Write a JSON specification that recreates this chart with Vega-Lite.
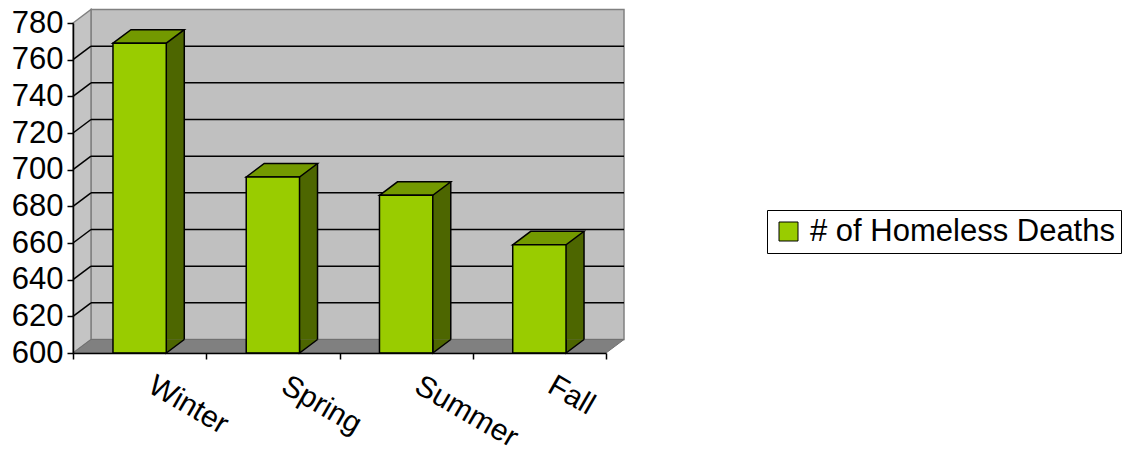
{
  "$schema": "https://vega.github.io/schema/vega-lite/v6.json",
  "width": 533,
  "height": 330,
  "autosize": {"type": "none"},
  "padding": {"left": 73, "top": 23, "right": 519, "bottom": 100},
  "background": "white",
  "config": {"view": {"stroke": null}, "font": "Liberation Sans",
             "axisY": {"labelOverlap": false, "labelBound": false, "labelFlush": false}},
  "datasets": {
    "deaths": [
      {"season": "Winter", "deaths": 769},
      {"season": "Spring", "deaths": 696},
      {"season": "Summer", "deaths": 686},
      {"season": "Fall", "deaths": 659}
    ],
    "gridticks": [
      {"v": 620}, {"v": 640}, {"v": 660}, {"v": 680},
      {"v": 700}, {"v": 720}, {"v": 740}, {"v": 760}
    ],
    "one": [{}]
  },
  "resolve": {"scale": {"x": "independent"}},
  "layer": [
    {
      "data": {"name": "one"},
      "mark": {"type": "rect", "fill": "#C0C0C0", "stroke": "#808080", "strokeWidth": 1.5,
               "xOffset": 18, "x2Offset": 18, "yOffset": -13.5, "y2Offset": -13.5},
      "encoding": {
        "x": {"datum": 0, "type": "quantitative", "scale": {"domain": [0, 4], "nice": false, "zero": false}, "axis": null},
        "x2": {"datum": 4},
        "y": {"datum": 600, "type": "quantitative", "title": null,
              "scale": {"domain": [600, 780], "nice": false, "zero": false},
              "axis": {"values": [600, 620, 640, 660, 680, 700, 720, 740, 760, 780], "grid": false,
                       "labelOverlap": false, "labelBound": false, "labelFlush": false,
                       "domainColor": "black", "domainWidth": 1.5, "tickColor": "black", "tickSize": 6, "tickWidth": 1.5,
                       "labelFont": "Liberation Sans", "labelFontSize": 31, "labelColor": "black", "labelPadding": 4,
                       "title": null, "zindex": 1}},
        "y2": {"datum": 780}
      }
    },
    {
      "data": {"name": "one"},
      "mark": {"type": "point", "shape": "M0,0 L0,-330 L18,-343.5 L18,-13.5 Z", "size": 4, "filled": true,
               "fill": "#C4C4C4", "stroke": "#808080", "strokeWidth": 1.5, "opacity": 1},
      "encoding": {
        "x": {"datum": 0, "type": "quantitative", "scale": {"domain": [0, 4], "nice": false, "zero": false}, "axis": null},
        "y": {"datum": 600, "type": "quantitative", "title": null, "scale": {"domain": [600, 780], "nice": false, "zero": false},
              "axis": {"values": [600, 620, 640, 660, 680, 700, 720, 740, 760, 780], "grid": false,
                       "labelOverlap": false, "labelBound": false, "labelFlush": false,
                       "domainColor": "black", "domainWidth": 1.5, "tickColor": "black", "tickSize": 6, "tickWidth": 1.5,
                       "labelFont": "Liberation Sans", "labelFontSize": 31, "labelColor": "black", "labelPadding": 4,
                       "title": null, "zindex": 1}}
      }
    },
    {
      "data": {"name": "one"},
      "mark": {"type": "point", "shape": "M0,0 L18,-13.5 L551,-13.5 L533,0 Z", "size": 4, "filled": true,
               "fill": "#808080", "stroke": "#707070", "strokeWidth": 1, "opacity": 1},
      "encoding": {
        "x": {"datum": 0, "type": "quantitative", "scale": {"domain": [0, 4], "nice": false, "zero": false}, "axis": null},
        "y": {"datum": 600, "type": "quantitative", "title": null, "scale": {"domain": [600, 780], "nice": false, "zero": false},
              "axis": {"values": [600, 620, 640, 660, 680, 700, 720, 740, 760, 780], "grid": false,
                       "labelOverlap": false, "labelBound": false, "labelFlush": false,
                       "domainColor": "black", "domainWidth": 1.5, "tickColor": "black", "tickSize": 6, "tickWidth": 1.5,
                       "labelFont": "Liberation Sans", "labelFontSize": 31, "labelColor": "black", "labelPadding": 4,
                       "title": null, "zindex": 1}}
      }
    },
    {
      "data": {"name": "gridticks"},
      "mark": {"type": "rule", "color": "black", "strokeWidth": 1.5, "xOffset": 18, "x2Offset": 18, "yOffset": -13.5},
      "encoding": {
        "x": {"datum": 0, "type": "quantitative", "scale": {"domain": [0, 4], "nice": false, "zero": false}, "axis": null},
        "x2": {"datum": 4},
        "y": {"field": "v", "type": "quantitative", "title": null, "scale": {"domain": [600, 780], "nice": false, "zero": false},
              "axis": {"values": [600, 620, 640, 660, 680, 700, 720, 740, 760, 780], "grid": false,
                       "labelOverlap": false, "labelBound": false, "labelFlush": false,
                       "domainColor": "black", "domainWidth": 1.5, "tickColor": "black", "tickSize": 6, "tickWidth": 1.5,
                       "labelFont": "Liberation Sans", "labelFontSize": 31, "labelColor": "black", "labelPadding": 4,
                       "title": null, "zindex": 1}}
      }
    },
    {
      "data": {"name": "gridticks"},
      "mark": {"type": "rule", "color": "black", "strokeWidth": 1.5, "x2Offset": 18, "y2Offset": -13.5},
      "encoding": {
        "x": {"datum": 0, "type": "quantitative", "scale": {"domain": [0, 4], "nice": false, "zero": false}, "axis": null},
        "x2": {"datum": 0},
        "y": {"field": "v", "type": "quantitative", "title": null, "scale": {"domain": [600, 780], "nice": false, "zero": false},
              "axis": {"values": [600, 620, 640, 660, 680, 700, 720, 740, 760, 780], "grid": false,
                       "labelOverlap": false, "labelBound": false, "labelFlush": false,
                       "domainColor": "black", "domainWidth": 1.5, "tickColor": "black", "tickSize": 6, "tickWidth": 1.5,
                       "labelFont": "Liberation Sans", "labelFontSize": 31, "labelColor": "black", "labelPadding": 4,
                       "title": null, "zindex": 1}},
        "y2": {"field": "v"}
      }
    },
    {
      "data": {"name": "deaths"},
      "mark": {"type": "bar", "width": {"band": 0.4}, "fill": "#4D6600", "xOffset": 18, "yOffset": -13.5, "y2Offset": -13.5},
      "encoding": {
        "x": {"field": "season", "type": "nominal", "sort": null, "scale": {"type": "band", "paddingInner": 0, "paddingOuter": 0}, "axis": null},
        "y": {"field": "deaths", "type": "quantitative", "title": null, "scale": {"domain": [600, 780], "nice": false, "zero": false},
              "axis": {"values": [600, 620, 640, 660, 680, 700, 720, 740, 760, 780], "grid": false,
                       "labelOverlap": false, "labelBound": false, "labelFlush": false,
                       "domainColor": "black", "domainWidth": 1.5, "tickColor": "black", "tickSize": 6, "tickWidth": 1.5,
                       "labelFont": "Liberation Sans", "labelFontSize": 31, "labelColor": "black", "labelPadding": 4,
                       "title": null, "zindex": 1}},
        "y2": {"datum": 600}
      }
    },
    {
      "data": {"name": "deaths"},
      "mark": {"type": "point", "shape": "M44.65,-13.5 L26.65,0 L26.65,-13.5", "size": 4, "filled": true,
               "fill": "#4D6600", "stroke": "black", "strokeWidth": 1.5, "opacity": 1},
      "encoding": {
        "x": {"field": "season", "type": "nominal", "sort": null, "scale": {"type": "band", "paddingInner": 0, "paddingOuter": 0}, "axis": null},
        "y": {"datum": 600, "type": "quantitative", "title": null, "scale": {"domain": [600, 780], "nice": false, "zero": false},
              "axis": {"values": [600, 620, 640, 660, 680, 700, 720, 740, 760, 780], "grid": false,
                       "labelOverlap": false, "labelBound": false, "labelFlush": false,
                       "domainColor": "black", "domainWidth": 1.5, "tickColor": "black", "tickSize": 6, "tickWidth": 1.5,
                       "labelFont": "Liberation Sans", "labelFontSize": 31, "labelColor": "black", "labelPadding": 4,
                       "title": null, "zindex": 1}}
      }
    },
    {
      "data": {"name": "deaths"},
      "mark": {"type": "rule", "color": "black", "strokeWidth": 1.5, "xOffset": 44.65, "yOffset": -13.5, "y2Offset": -13.5},
      "encoding": {
        "x": {"field": "season", "type": "nominal", "sort": null, "scale": {"type": "band", "paddingInner": 0, "paddingOuter": 0}, "axis": null},
        "y": {"field": "deaths", "type": "quantitative", "title": null, "scale": {"domain": [600, 780], "nice": false, "zero": false},
              "axis": {"values": [600, 620, 640, 660, 680, 700, 720, 740, 760, 780], "grid": false,
                       "labelOverlap": false, "labelBound": false, "labelFlush": false,
                       "domainColor": "black", "domainWidth": 1.5, "tickColor": "black", "tickSize": 6, "tickWidth": 1.5,
                       "labelFont": "Liberation Sans", "labelFontSize": 31, "labelColor": "black", "labelPadding": 4,
                       "title": null, "zindex": 1}},
        "y2": {"datum": 600}
      }
    },
    {
      "data": {"name": "deaths"},
      "mark": {"type": "point", "shape": "M-26.65,0 L-8.65,-13.5 L44.65,-13.5 L26.65,0 Z", "size": 4, "filled": true,
               "fill": "#739900", "stroke": "black", "strokeWidth": 1.5, "opacity": 1},
      "encoding": {
        "x": {"field": "season", "type": "nominal", "sort": null, "scale": {"type": "band", "paddingInner": 0, "paddingOuter": 0}, "axis": null},
        "y": {"field": "deaths", "type": "quantitative", "title": null, "scale": {"domain": [600, 780], "nice": false, "zero": false},
              "axis": {"values": [600, 620, 640, 660, 680, 700, 720, 740, 760, 780], "grid": false,
                       "labelOverlap": false, "labelBound": false, "labelFlush": false,
                       "domainColor": "black", "domainWidth": 1.5, "tickColor": "black", "tickSize": 6, "tickWidth": 1.5,
                       "labelFont": "Liberation Sans", "labelFontSize": 31, "labelColor": "black", "labelPadding": 4,
                       "title": null, "zindex": 1}}
      }
    },
    {
      "data": {"name": "deaths"},
      "mark": {"type": "bar", "width": {"band": 0.4}, "stroke": "black", "strokeWidth": 1.5},
      "encoding": {
        "x": {"field": "season", "type": "nominal", "sort": null, "title": null,
              "scale": {"type": "band", "paddingInner": 0, "paddingOuter": 0},
              "axis": {"tickBand": "extent", "domainColor": "black", "domainWidth": 1.5, "tickColor": "black",
                       "tickSize": 6, "tickWidth": 1.5, "labelAngle": 30, "labelAlign": "left", "labelBaseline": "top",
                       "labelFont": "Liberation Sans", "labelFontSize": 30, "labelColor": "black",
                       "labelPadding": 11, "labelOffset": 18, "labelOverlap": false, "labelBound": false,
                       "title": null, "zindex": 1}},
        "y": {"field": "deaths", "type": "quantitative", "title": null, "scale": {"domain": [600, 780], "nice": false, "zero": false},
              "axis": {"values": [600, 620, 640, 660, 680, 700, 720, 740, 760, 780], "grid": false,
                       "labelOverlap": false, "labelBound": false, "labelFlush": false,
                       "domainColor": "black", "domainWidth": 1.5, "tickColor": "black", "tickSize": 6, "tickWidth": 1.5,
                       "labelFont": "Liberation Sans", "labelFontSize": 31, "labelColor": "black", "labelPadding": 4,
                       "title": null, "zindex": 1}},
        "y2": {"datum": 600},
        "fill": {"datum": "# of Homeless Deaths", "type": "nominal", "scale": {"range": ["#99CC00"]},
                 "legend": {"title": null, "orient": "none", "legendX": 694, "legendY": 187,
                            "strokeColor": "black", "fillColor": "white", "padding": 6,
                            "symbolType": "square", "symbolSize": 361, "symbolStrokeColor": "black", "symbolStrokeWidth": 1,
                            "symbolOffset": 0, "labelFont": "Liberation Sans", "labelFontSize": 31, "labelColor": "black",
                            "labelOffset": 6, "labelLimit": 0}}
      }
    }
  ]
}
